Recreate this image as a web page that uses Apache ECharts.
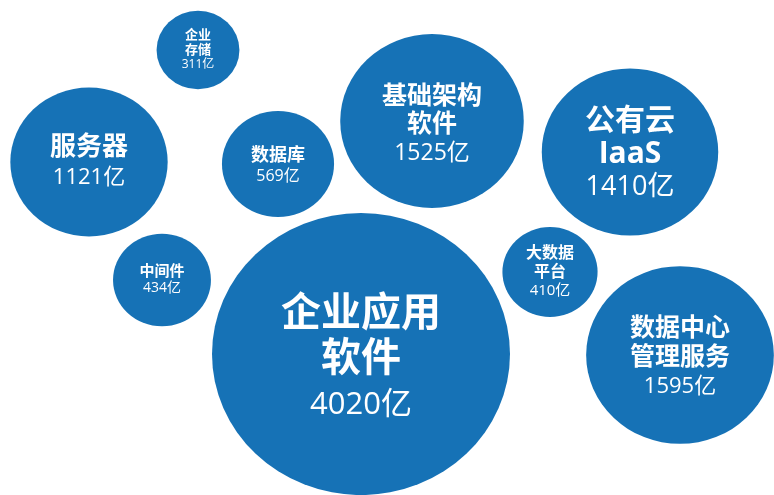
<!DOCTYPE html>
<html>
<head>
<meta charset="utf-8">
<title>软件与服务市场规模</title>
<style>
  html, body { margin: 0; padding: 0; background: #ffffff; }
  #chart { width: 774px; height: 495px; }
</style>
<script src="https://cdn.jsdelivr.net/npm/echarts@6/dist/echarts.min.js"></script>
</head>
<body>
<div id="chart"></div>
<script>
// Segment names (line breaks as printed inside each bubble) and market size in 亿
const names = ['企业\n存储', '服务器', '数据库', '基础架构\n软件', '公有云\nIaaS',
               '中间件', '企业应用\n软件', '大数据\n平台', '数据中心\n管理服务'];
const values = [311, 1121, 569, 1525, 1410, 434, 4020, 410, 1595];
const unit = '亿';

// Bubble placement on the hidden layout axes (x to the right, y downward)
const posX = [198, 89, 278, 432, 630, 162, 361, 550, 680];
const posY = [50, 162, 164, 121, 152, 280, 354, 272, 355];

// Label typography per bubble
const nameFont = [13, 26, 18, 25, 30, 15, 40, 16, 25];
const valueFont = [12, 22, 16, 23, 27, 14, 31, 15, 22];
const lineGap = [14.5, 30, 20, 28, 33, 16, 45, 18.5, 29];
const labelDrop = [0, 1, 2, 4, 2, 0, 6, 0, 3];

const BLUE = '#1672b6';
const FONT = '"Open Sans", "Noto Sans CJK SC", sans-serif';

// Bubble area is proportional to value; the drawing is slightly wider than tall
const sizeOf = v => [4.7 * Math.sqrt(v), 4.45 * Math.sqrt(v)];

const seriesData = names.map((n, i) => ({
  name: n,
  value: [posX[i], posY[i], values[i]],
  label: {
    offset: [0, labelDrop[i]],
    rich: {
      n: { fontSize: nameFont[i], fontWeight: 'bold', lineHeight: lineGap[i], color: '#fff', fontFamily: FONT },
      v: { fontSize: valueFont[i], fontWeight: 'normal', lineHeight: lineGap[i], color: '#fff', fontFamily: FONT }
    }
  }
}));

const chart = echarts.init(document.getElementById('chart'), null, { renderer: 'canvas' });
chart.setOption({
  animation: false,
  backgroundColor: '#ffffff',
  grid: { left: 0, right: 0, top: 0, bottom: 0 },
  xAxis: { type: 'value', min: 0, max: 774, show: false },
  yAxis: { type: 'value', min: 0, max: 495, inverse: true, show: false },
  series: [{
    type: 'scatter',
    data: seriesData,
    symbol: 'circle',
    symbolSize: d => sizeOf(d[2]),
    itemStyle: { color: BLUE, opacity: 1 },
    label: {
      show: true,
      position: 'inside',
      align: 'center',
      verticalAlign: 'middle',
      formatter: p => '{n|' + p.name + '}\n{v|' + p.value[2] + unit + '}'
    }
  }]
});
</script>
</body>
</html>
